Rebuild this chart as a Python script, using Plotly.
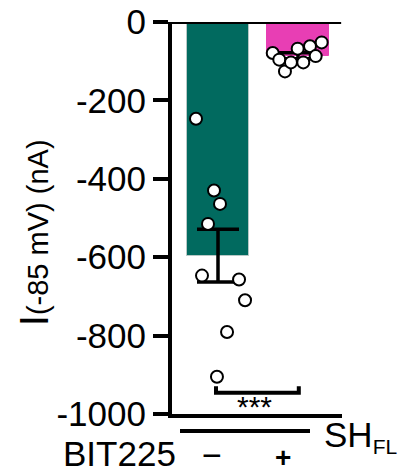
import numpy as np
import plotly.graph_objects as go

# groups (x positions 0 and 1), colours
groups = ["BIT225 −", "BIT225 +"]
bar_colors = ["#016A5F", "#E83EB4"]

# individual cells, I(-85 mV) in nA, with horizontal jitter (in bar units)
ctrl_vals = [-247, -430, -464, -515, -647, -657, -710, -791, -905]
ctrl_jit = [-0.275, -0.05, 0.025, -0.125, -0.2, 0.263, 0.338, 0.113, -0.013]
bit_vals = [-79, -96, -126, -103, -68, -103, -62, -87, -52]
bit_jit = [-0.316, -0.234, -0.163, -0.088, -0.004, 0.066, 0.15, 0.221, 0.296]

tick_vals = [0, -200, -400, -600, -800, -1000]
tick_text = ["0", "-200", "-400", "-600", "-800", "-1000"]

FONT = "Liberation Sans, Arial, sans-serif"

means = [np.mean(ctrl_vals), np.mean(bit_vals)]
sems = [np.std(ctrl_vals, ddof=1) / np.sqrt(len(ctrl_vals)),
        np.std(bit_vals, ddof=1) / np.sqrt(len(bit_vals))]

fig = go.Figure()

fig.add_trace(go.Bar(
    x=[0, 1], y=means, width=0.775,
    marker=dict(color=bar_colors, line=dict(color=["#B8C8C6", bar_colors[1]], width=1)),
    error_y=dict(type="data", array=sems, symmetric=True,
                 color="black", thickness=3.5, width=21),
    hoverinfo="skip", showlegend=False,
))

for vals, jit, g in [(ctrl_vals, ctrl_jit, 0), (bit_vals, bit_jit, 1)]:
    fig.add_trace(go.Scatter(
        x=[g + j for j in jit], y=vals, mode="markers",
        marker=dict(size=12, color="white", line=dict(color="black", width=2)),
        showlegend=False, cliponaxis=False,
    ))

# zero line across the top
fig.add_shape(type="line", xref="paper", yref="y", x0=0, x1=0.995, y0=0, y1=0,
              line=dict(color="black", width=4))
# significance bracket
fig.add_shape(type="path", xref="x", yref="y",
              path="M -0.025,-929 L -0.025,-946 L 1.01,-946 L 1.01,-929",
              line=dict(color="black", width=4))
# group line under the axis
fig.add_shape(type="line", xref="x", yref="paper", x0=-0.475, x1=1.15,
              y0=-0.0434, y1=-0.0434, line=dict(color="black", width=4))

fig.add_annotation(x=0.46, y=-982, xref="x", yref="y", text="***", showarrow=False,
                   font=dict(family=FONT, size=30, color="black"), yanchor="middle")

fig.add_annotation(x=-0.5, y=-0.0995, xref="x", yref="paper", text="BIT225",
                   showarrow=False, xanchor="right", yanchor="middle",
                   font=dict(family=FONT, size=35, color="black"))
fig.add_annotation(x=-0.075, y=-0.105, xref="x", yref="paper", text="−",
                   showarrow=False, xanchor="center", yanchor="middle",
                   font=dict(family=FONT, size=34, color="black"))
fig.add_annotation(x=0.81, y=-0.11, xref="x", yref="paper", text="<b>+</b>",
                   showarrow=False, xanchor="center", yanchor="middle",
                   font=dict(family=FONT, size=28, color="black"))
fig.add_annotation(x=1.3, y=-0.058, xref="x", yref="paper",
                   text="SH<sub><span style='font-size:21px'>FL</span></sub>",
                   showarrow=False, xanchor="left", yanchor="middle",
                   font=dict(family=FONT, size=35, color="black"))

# y axis title
fig.add_annotation(x=-0.81, y=0.462, xref="paper", yref="paper",
                   text="I<span style='font-size:29px'>(-85 mV) (nA)</span>",
                   textangle=-90, showarrow=False, xanchor="center", yanchor="middle",
                   font=dict(family=FONT, size=40, color="black"))

fig.update_xaxes(range=[-0.575, 1.55], showgrid=False, zeroline=False,
                 showticklabels=False, ticks="", showline=True, automargin=False,
                 linecolor="black", linewidth=4)
fig.update_yaxes(range=[-1000, 0], showgrid=False, zeroline=False,
                 tickvals=tick_vals, ticktext=tick_text, ticks="outside",
                 ticklen=15, tickwidth=4, tickcolor="black", automargin=False,
                 showline=True, linecolor="black", linewidth=4,
                 tickfont=dict(family=FONT, size=35, color="black"))

fig.update_layout(
    width=405, height=472,
    margin=dict(l=172, r=63, t=22, b=58),
    plot_bgcolor="white", paper_bgcolor="white",
    bargap=0,
)

fig.write_html("out.html", config={"displayModeBar": False},
               post_script="document.body.style.margin='0';")
